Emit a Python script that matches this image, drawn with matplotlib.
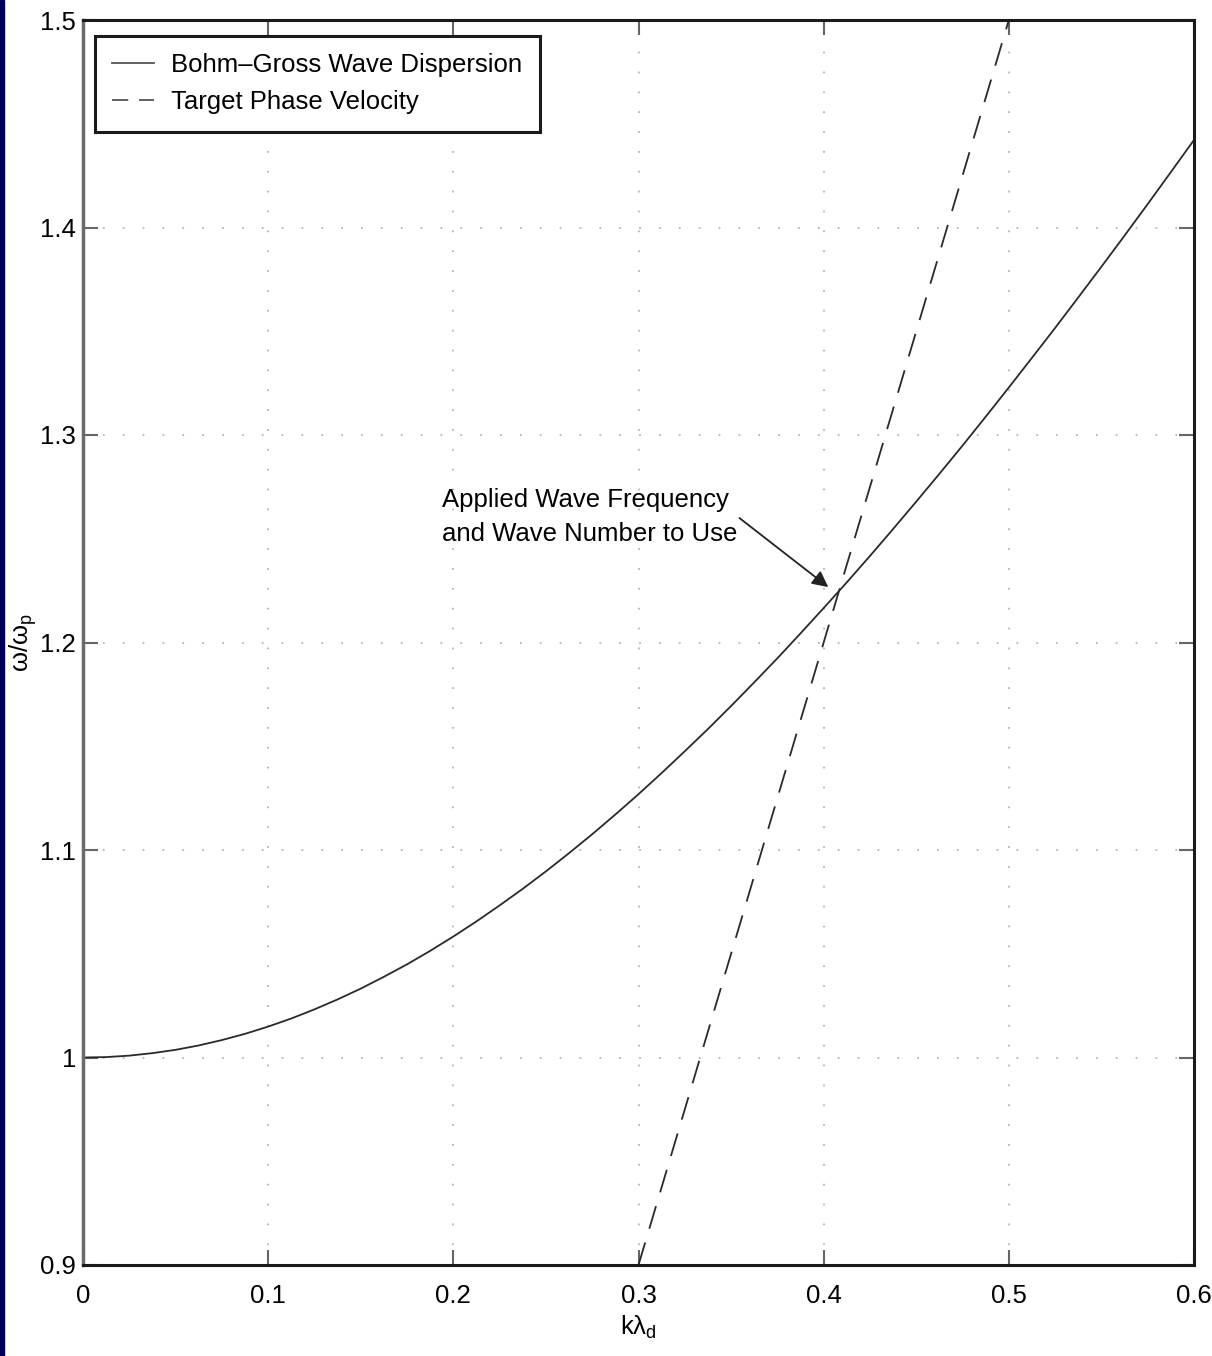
import numpy as np
import matplotlib
matplotlib.use("Agg")
import matplotlib.pyplot as plt
from matplotlib.patches import Rectangle
from matplotlib.lines import Line2D

# values (k step 0.0125)
k_bohm = np.arange(49) * 0.0125
w_bohm = [1.0000, 1.0002, 1.0009, 1.0021, 1.0037, 1.0058, 1.0084, 1.0114,
          1.0149, 1.0188, 1.0232, 1.0280, 1.0332, 1.0389, 1.0449, 1.0514,
          1.0583, 1.0656, 1.0733, 1.0813, 1.0897, 1.0985, 1.1076, 1.1171,
          1.1269, 1.1371, 1.1476, 1.1583, 1.1694, 1.1808, 1.1924, 1.2044,
          1.2166, 1.2290, 1.2417, 1.2547, 1.2679, 1.2813, 1.2949, 1.3088,
          1.3229, 1.3372, 1.3516, 1.3663, 1.3811, 1.3961, 1.4113, 1.4267,
          1.4422]
k_phase = [0.3, 0.5]
w_phase = [0.9, 1.5]

xticks = [0, 0.1, 0.2, 0.3, 0.4, 0.5, 0.6]
xtick_labels = ['0', '0.1', '0.2', '0.3', '0.4', '0.5', '0.6']
yticks = [0.9, 1.0, 1.1, 1.2, 1.3, 1.4, 1.5]
ytick_labels = ['0.9', '1', '1.1', '1.2', '1.3', '1.4', '1.5']

plt.rcParams['font.family'] = ['Liberation Sans', 'DejaVu Sans']
plt.rcParams['mathtext.default'] = 'regular'
fs = 18.5

fig = plt.figure(figsize=(12.12, 13.56), dpi=100)
fig.patches.append(Rectangle((0, 0), 4 / 1212, 1, transform=fig.transFigure,
                             color='#00005a', zorder=0))
ax = fig.add_axes([83 / 1212, 91 / 1356, 1111 / 1212, 1245 / 1356])

ax.plot(k_bohm, w_bohm, color='#2a2a2a', lw=1.3)
ax.plot(k_phase, w_phase, color='#2a2a2a', lw=1.3, dashes=(13, 8))

ax.set_xlim(0, 0.6)
ax.set_ylim(0.9, 1.5)
ax.set_xticks(xticks)
ax.set_xticklabels(xtick_labels)
ax.set_yticks(yticks)
ax.set_yticklabels(ytick_labels)
ax.tick_params(direction='in', top=True, right=True, length=11, width=1.5,
               color='#666666', labelsize=fs)
ax.tick_params(axis='x', pad=14)
ax.tick_params(axis='y', pad=5)
ax.grid(True, color='#b5b5b5', lw=1.3, dashes=(1, 10))

for side in ['top', 'bottom', 'right']:
    ax.spines[side].set_color('#1a1a1a')
    ax.spines[side].set_linewidth(2.2)
ax.spines['left'].set_color('#6a6a6a')
ax.spines['left'].set_linewidth(2.5)

ax.set_xlabel('k\u03bb$_{d}$', fontsize=fs, labelpad=4)
ax.set_ylabel('\u03c9/\u03c9$_{p}$', fontsize=fs)
ax.yaxis.set_label_coords(-0.040, 0.5)

# annotation: text and arrow
ax.text(0.194, 1.2605, 'Applied Wave Frequency\nand Wave Number to Use',
        fontsize=fs, ha='left', va='center', multialignment='left',
        linespacing=1.55)
ax.annotate('', xy=(0.4025, 1.2267), xytext=(0.3545, 1.2600),
            arrowprops=dict(arrowstyle='-|>', color='#222222', lw=1.3,
                            mutation_scale=24, shrinkA=0, shrinkB=0))

handles = [Line2D([], [], color='#555555', lw=1.3),
           Line2D([], [], color='#555555', lw=1.3, dashes=(9, 6))]
labels = ['Bohm\u2013Gross Wave Dispersion', 'Target Phase Velocity']
leg = ax.legend(handles, labels, loc='upper left',
                bbox_to_anchor=(12 / 1111, 1 - 16 / 1245),
                fontsize=fs, fancybox=False, framealpha=1, edgecolor='#1a1a1a',
                handlelength=1.63, handletextpad=0.66, labelspacing=0.5,
                borderpad=0.68, borderaxespad=0)
leg.get_frame().set_linewidth(2.2)

fig.savefig('out.png', dpi=100)
